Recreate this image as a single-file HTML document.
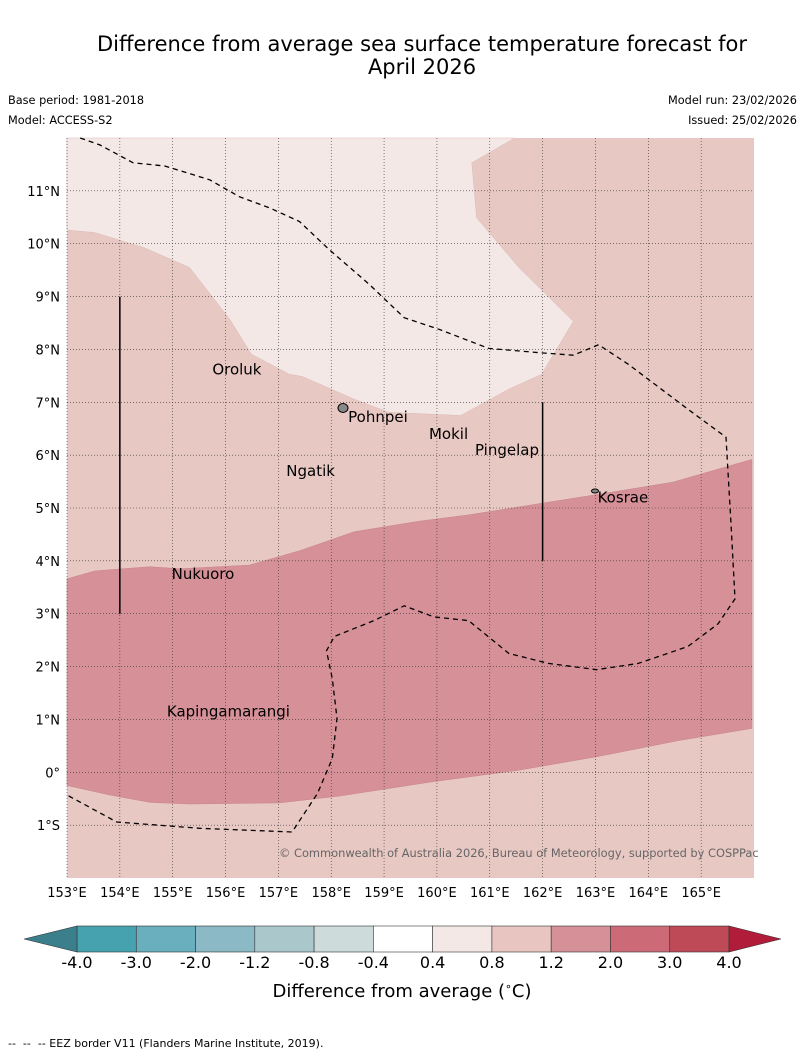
<!DOCTYPE html>
<html><head><meta charset="utf-8"><style>
body{margin:0;background:#fff;width:804px;height:1058px;overflow:hidden;font-family:"Liberation Sans","DejaVu Sans",sans-serif}
svg text{font-family:"DejaVu Sans","Liberation Sans",sans-serif}
</style></head><body>
<svg id="s" width="804" height="1058" xmlns="http://www.w3.org/2000/svg">
<text x="422" y="51" font-size="21" text-anchor="middle">Difference from average sea surface temperature forecast for</text>
<text x="422" y="74" font-size="21" text-anchor="middle">April 2026</text>
<text x="8" y="104" font-size="11.3">Base period: 1981-2018</text>
<text x="8" y="124" font-size="11.3">Model: ACCESS-S2</text>
<text x="797" y="104" font-size="11.3" text-anchor="end">Model run: 23/02/2026</text>
<text x="797" y="124" font-size="11.3" text-anchor="end">Issued: 25/02/2026</text>
<g id="map"></g>
<g id="cb"></g>
<text x="402" y="997" font-size="18" text-anchor="middle">Difference from average (<tspan font-size="11" dy="-7">∘</tspan><tspan dy="7">C)</tspan></text>
<text x="8" y="1047" font-size="11">-- &#160;-- &#160;-- EEZ border V11 (Flanders Marine Institute, 2019).</text>
</svg>
<script>
const lonTicks=[153,154,155,156,157,158,159,160,161,162,163,164,165];
const latTicks=[11,10,9,8,7,6,5,4,3,2,1,0,-1];
const lightRegion=[[153,12],[153,10.26],[153.53,10.21],[154.47,9.92],[155.32,9.55],[156.08,8.57],[156.49,7.91],[157.21,7.53],[157.45,7.49],[158.43,7.06],[159.09,6.81],[160.45,6.75],[161.36,7.25],[161.98,7.53],[162.58,8.53],[161.55,9.55],[160.75,10.49],[160.66,11.53],[161.47,12]];
const darkRegion=[[153,3.66],[153.53,3.81],[154.57,3.89],[155.13,3.85],[156.45,3.92],[157.4,4.19],[158.43,4.55],[159.66,4.75],[160.6,4.87],[161.92,5.08],[163.06,5.26],[164.47,5.49],[165.96,5.92],[165.96,0.83],[164.57,0.6],[163.06,0.3],[161.55,0.04],[159.85,-0.19],[158.15,-0.45],[157.02,-0.58],[155.32,-0.6],[154.57,-0.57],[153.81,-0.43],[153,-0.25]];
const eezLine=[[153.25,12],[153.62,11.87],[154.25,11.53],[154.85,11.47],[155.7,11.21],[156.26,10.89],[156.83,10.68],[157.4,10.42],[157.96,9.89],[158.72,9.23],[159.38,8.6],[160.04,8.38],[160.98,8.02],[161.92,7.94],[162.58,7.89],[163.06,8.09],[163.62,7.72],[164.75,6.87],[165.47,6.34],[165.57,4.6],[165.64,3.28],[165.32,2.81],[164.75,2.38],[163.81,2.06],[163.02,1.94],[162.11,2.06],[161.36,2.25],[160.6,2.87],[159.94,2.94],[159.38,3.15],[158.81,2.87],[158.06,2.57],[157.91,2.3],[158.02,1.77],[158.11,1.02],[158.02,0.26],[157.74,-0.4],[157.26,-1.13],[155.51,-1.06],[153.94,-0.94],[153,-0.43]];
const places=["Oroluk","Pohnpei","Mokil","Pingelap","Ngatik","Kosrae","Nukuoro","Kapingamarangi"];
const placeLon=[155.75,158.32,159.85,160.72,157.15,163.04,154.98,154.89];
const placeLat=[7.62,6.72,6.4,6.1,5.7,5.2,3.75,1.15];
const cbEdges=["-4.0","-3.0","-2.0","-1.2","-0.8","-0.4","0.4","0.8","1.2","2.0","3.0","4.0"];
const cbColors=["#47a2b0","#6aafbd","#8bb9c5","#aac8cc","#cddbdb","#ffffff","#f4e8e6","#e8c5c0","#d69098","#cc6b77","#be4a58"];
const NS="http://www.w3.org/2000/svg";
const X0=67,X1=754,Y0=138,Y1=878,LON0=153,LON1=166,LAT0=12,LAT1=-2;
const px=l=>X0+(l-LON0)/(LON1-LON0)*(X1-X0);
const py=l=>Y0+(LAT0-l)/(LAT0-LAT1)*(Y1-Y0);
function mk(tag,attrs,parent){const e=document.createElementNS(NS,tag);for(const k in attrs)e.setAttribute(k,attrs[k]);parent.appendChild(e);return e;}
const map=document.getElementById('map');
let e=mk('rect',{x:X0,y:Y0,width:X1-X0,height:Y1-Y0,fill:'#e8c8c3'},map);


const pts=a=>a.map(p=>px(p[0]).toFixed(1)+','+py(p[1]).toFixed(1)).join(' ');
e=mk('polygon',{points:pts(lightRegion),fill:'#f4e8e6',stroke:'#d9bcb7','stroke-width':0.5},map);


e=mk('polygon',{points:pts(darkRegion),fill:'#d69098',stroke:'#c7848c','stroke-width':0.5},map);


lonTicks.forEach(l=>{
 let g=mk('line',{x1:px(l),x2:px(l),y1:Y0,y2:Y1,stroke:'#333','stroke-width':0.6,'stroke-dasharray':'1,2'},map);
 
 
 let t=mk('text',{x:px(l),y:897,'font-size':13,'text-anchor':'middle'},map);t.textContent=l+'°E';
 
 
});
latTicks.forEach(l=>{
 let g=mk('line',{x1:X0,x2:X1,y1:py(l),y2:py(l),stroke:'#333','stroke-width':0.6,'stroke-dasharray':'1,2'},map);
 
 
 let t=mk('text',{x:60,y:py(l)+5,'font-size':13,'text-anchor':'end'},map);t.textContent=l===0?'0°':(Math.abs(l)+'°'+(l>0?'N':'S'));
 
 
});
e=mk('polyline',{points:pts(eezLine),fill:'none',stroke:'#000','stroke-width':1.3,'stroke-dasharray':'5,4'},map);


e=mk('line',{x1:px(154),x2:px(154),y1:py(9),y2:py(3),stroke:'#000','stroke-width':1.5},map);


e=mk('line',{x1:px(162),x2:px(162),y1:py(7),y2:py(4),stroke:'#000','stroke-width':1.5},map);


e=mk('ellipse',{cx:343,cy:408,rx:5,ry:4.5,fill:'#888',stroke:'#000','stroke-width':1},map);


e=mk('ellipse',{cx:595,cy:491,rx:3.5,ry:2,fill:'#888',stroke:'#000','stroke-width':1},map);


places.forEach((n,i)=>{
 let t=mk('text',{x:px(placeLon[i]),y:py(placeLat[i])+5,'font-size':15},map);t.textContent=n;
 
 
});
e=mk('text',{x:279,y:857,'font-size':11.4,fill:'#666'},map);e.textContent='© Commonwealth of Australia 2026, Bureau of Meteorology, supported by COSPPac';


const cb=document.getElementById('cb');
const CB0=77,CB1=729,CY=926,CH=26,sw=(CB1-CB0)/cbColors.length;
cbColors.forEach((c,i)=>{
 let r=mk('rect',{x:CB0+i*sw,y:CY,width:sw,height:CH,fill:c,stroke:'#333','stroke-width':0.6},cb);
 
 
});
e=mk('polygon',{points:`${CB0},${CY} ${CB0},${CY+CH} 24,${CY+CH/2}`,fill:'#3c7f8c',stroke:'#333','stroke-width':0.6},cb);


e=mk('polygon',{points:`${CB1},${CY} ${CB1},${CY+CH} 781,${CY+CH/2}`,fill:'#b01c3a',stroke:'#333','stroke-width':0.6},cb);


cbEdges.forEach((v,i)=>{
 let t=mk('text',{x:CB0+i*sw,y:968,'font-size':16,'text-anchor':'middle'},cb);t.textContent=v;
 
 
});
</script>
</body></html>
